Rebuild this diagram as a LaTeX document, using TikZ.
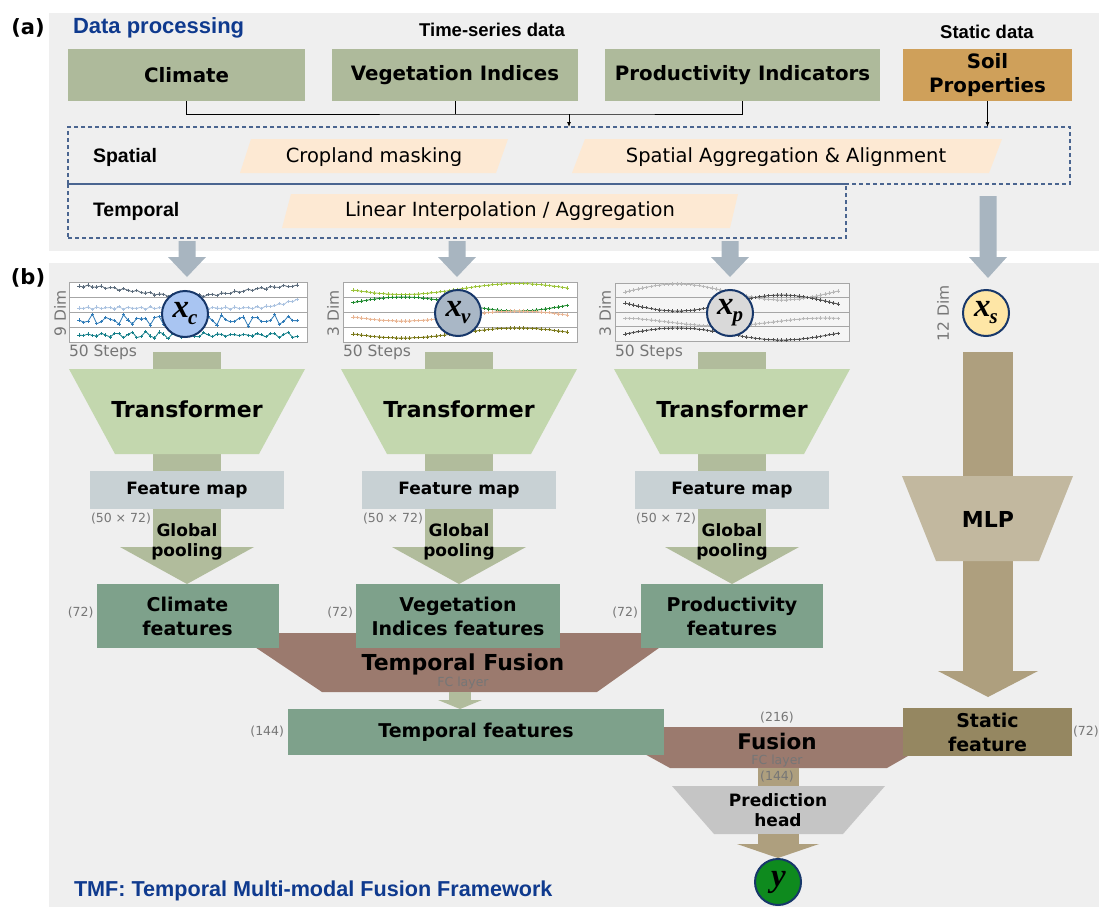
\documentclass[tikz,border=0pt]{standalone}
\usepackage{fontspec}
\setmainfont{DejaVu Sans}
\newfontfamily\arialf{Liberation Sans}
\newfontfamily\timesf{Liberation Serif}
\usetikzlibrary{arrows.meta,positioning,calc}

\newcommand\fsz[2]{\fontsize{#1}{#2}\selectfont}

\definecolor{panelbg}{HTML}{EFEFEF}
\definecolor{titleblue}{HTML}{0F3A8E}
\definecolor{inputgreen}{HTML}{AEBA9B}
\definecolor{soilorange}{HTML}{CFA05A}
\definecolor{peach}{HTML}{FDE9D3}
\definecolor{dashblue}{HTML}{4A6590}
\definecolor{arrowgray}{HTML}{A8B5C0}
\definecolor{trgreen}{HTML}{C3D7AE}
\definecolor{shaftgreen}{HTML}{B1BC9C}
\definecolor{fmapgray}{HTML}{C8D1D4}
\definecolor{featgreen}{HTML}{7EA18B}
\definecolor{fusebrown}{HTML}{9B7A6E}
\definecolor{tanfill}{HTML}{AE9F7E}
\definecolor{mlptan}{HTML}{C2B89F}
\definecolor{staticbrown}{HTML}{958761}
\definecolor{headgray}{HTML}{C5C5C5}
\definecolor{ringblue}{HTML}{17376A}
\definecolor{dimgray}{HTML}{767676}
\definecolor{xcblue}{HTML}{A9C5F2}
\definecolor{xvgray}{HTML}{A9B7C6}
\definecolor{xpgray}{HTML}{D9D9D9}
\definecolor{xsyellow}{HTML}{FEE6A6}
\definecolor{ygreen}{HTML}{0E8A1E}
% series colours of the input plots
\definecolor{ca}{HTML}{5C6C7C}
\definecolor{cb}{HTML}{AAC2E0}
\definecolor{cc}{HTML}{2F7BB8}
\definecolor{cd}{HTML}{16808A}
\definecolor{va}{HTML}{9CC43A}
\definecolor{vb}{HTML}{1F8A2F}
\definecolor{vc}{HTML}{E9B593}
\definecolor{vd}{HTML}{7A7818}
\definecolor{pa}{HTML}{B8B8B8}
\definecolor{pb}{HTML}{505050}

\tikzset{
  every node/.style={inner sep=0pt,outer sep=0pt},
  inbox/.style={fill=inputgreen,minimum height=52,font=\bfseries\fsz{19.8}{24},align=center},
  dashbox/.style={draw=dashblue,line width=1.1,dash pattern=on 4pt off 3pt},
  proc/.style={font=\fsz{19.5}{24}},
  rowlbl/.style={anchor=west,font=\arialf\bfseries\fsz{19.5}{22}},
  varcirc/.style={shape=circle,draw=ringblue,line width=2,minimum size=46},
  dimlbl/.style={text=dimgray,font=\fsz{12.5}{14}},
  steplbl/.style={text=dimgray,font=\fsz{15.5}{18}},
  plotframe/.style={draw=gray!70,line width=0.8},
  series/.style={line width=0.8,mark=+,mark size=1.6},
  bigbold/.style={font=\bfseries\fsz{22}{26},align=center},
  midbold/.style={font=\bfseries\fsz{17}{20},align=center},
  featbox/.style={fill=featgreen,minimum height=64,font=\bfseries\fsz{19}{24},align=center},
  fmap/.style={fill=fmapgray,minimum width=194,minimum height=38,font=\bfseries\fsz{17}{20}},
}
% bold italic variable with a lowered index
\newcommand\varsym[2]{{\timesf\bfseries\itshape\fsz{33}{33}#1\kern-1pt\raisebox{-7pt}{\fsz{21}{21}#2}}}

\begin{document}
\begin{tikzpicture}[x=1pt,y=-1pt,>=Latex]
\useasboundingbox (0,0) rectangle (1099,907);
% panels
\fill[panelbg] (49,13) rectangle (1099,251);
\fill[panelbg] (49,263) rectangle (1099,907);
\node[font=\bfseries\fsz{21}{24}] (tagA) at (28,28) {(a)};
\node[font=\bfseries\fsz{21}{24}] (tagB) at (28,278) {(b)};

% ---------- (a) data processing ----------
\node[anchor=west,text=titleblue,font=\arialf\bfseries\fsz{22}{25}] (dptitle) at (73,28) {Data processing};
\node[font=\arialf\bfseries\fsz{18.5}{21}] (tslbl) at (492,30) {Time-series data};
\node[font=\arialf\bfseries\fsz{18.5}{21}] (stlbl) at (987,32) {Static data};

\node[inbox,minimum width=237] (clim) at (186.5,75) {Climate};
\node[inbox,minimum width=246] (veg) at (455,75) {Vegetation Indices};
\node[inbox,minimum width=275] (prod) at (742.5,75) {Productivity Indicators};
\node[inbox,minimum width=169,fill=soilorange] (soil) at (987.5,75) {Soil\\Properties};

% dashed processing boxes
\node[dashbox,minimum width=1002,minimum height=57] (spat) at (569,155.5) {};
\node[dashbox,minimum width=778,minimum height=54] (temp) at (457,211) {};
\node[rowlbl] (spatlbl) at (93,157) {Spatial};
\node[rowlbl] (templbl) at (93,211) {Temporal};

\fill[peach] (251,139) -- (508,139) -- (496,173) -- (240,173) -- cycle;
\fill[peach] (585,139) -- (1002,139) -- (989,173) -- (572,173) -- cycle;
\fill[peach] (291,194) -- (738,194) -- (730,228) -- (282,228) -- cycle;
\node[proc] (crop) at (374,157) {Cropland masking};
\node[proc] (align) at (786,157) {Spatial Aggregation \& Alignment};
\node[proc] (interp) at (510,211) {Linear Interpolation / Aggregation};

% inputs into the processing block
\coordinate (bus) at (569,114);
\draw[line width=0.8] (clim.south) |- (bus) -| (prod.south);
\draw[line width=0.8] (veg.south) -- (veg.south |- bus);
\draw[line width=0.8,-{Latex[length=5pt,width=4pt]}] (bus) -- (bus |- spat.north);
\draw[line width=0.8,-{Latex[length=5pt,width=4pt]}] (soil.south) -- (soil.south |- spat.north);

% block arrows down to (b)
\foreach \cx in {187,457,730}
  \fill[arrowgray] (\cx-8.5,241) -- (\cx+8.5,241) -- (\cx+8.5,257) -- (\cx+19,257)
    -- (\cx,277) -- (\cx-19,257) -- (\cx-8.5,257) -- cycle;
\fill[arrowgray] (979.5,196) -- (996.5,196) -- (996.5,257) -- (1007,257)
  -- (988,278) -- (969,257) -- (979.5,257) -- cycle;

% ---------- (b) inputs ----------
% climate series
\fill[white] (69,282) rectangle (307,342);
\foreach \gy in {297,312,327} \draw[gray!70,line width=0.7] (69,\gy) -- (307,\gy);
\draw[plotframe] (69,282) rectangle (307,342);
\draw[series,ca] plot[domain=0:49,samples=50] ({79+4.45*\x},{291-5*cos(\x*7.35)+1.2*sin(\x*131)});
\draw[series,cb] plot[domain=0:49,samples=50] ({79+4.45*\x},{308+1.2*sin(\x*151)-0.07*max(0,\x-38)^2});
\draw[series,cc] plot[domain=0:49,samples=50] ({79+4.45*\x},{320+3.5*sin(\x*97)+2.5*sin(\x*211)});
\draw[series,cd] plot[domain=0:49,samples=50] ({79+4.45*\x},{335+2.2*sin(\x*113)+1.5*sin(\x*257)});
% vegetation series
\fill[white] (343,282) rectangle (577,342);
\foreach \gy in {297,312,327} \draw[gray!70,line width=0.7] (343,\gy) -- (577,\gy);
\draw[plotframe] (343,282) rectangle (577,342);
\draw[series,va] plot[domain=0:49,samples=50] ({353+4.37*\x},{289-5.5*sin((\x-24.5)*6.9)});
\draw[series,vb] plot[domain=0:49,samples=50] ({353+4.37*\x},{304+7*sin((\x-24.5)*6.9)});
\draw[series,vc] plot[domain=0:49,samples=50] ({353+4.37*\x},{321-5*(1+sin((\x-24.5)*6.9))});
\draw[series,vd] plot[domain=0:49,samples=50] ({353+4.37*\x},{333-5*sin((\x-24.5)*6.9)});
% productivity series
\fill[gray!8] (615,283) rectangle (849,341);
\foreach \gy in {297.5,312,326.5} \draw[gray!70,line width=0.7] (615,\gy) -- (849,\gy);
\draw[plotframe] (615,283) rectangle (849,341);
\draw[series,pa] plot[domain=0:49,samples=50] ({625+4.35*\x},{292-8*sin(\x*7.5)});
\draw[series,pb] plot[domain=0:49,samples=50] ({625+4.35*\x},{303+8*sin(\x*7.5)});
\draw[series,pa] plot[domain=0:49,samples=50] ({625+4.35*\x},{322+4*sin((\x-10)*7.5)});
\draw[series,pb] plot[domain=0:49,samples=50] ({625+4.35*\x},{334-6*sin(\x*7.5)});

\node[steplbl,rotate=90] (dimc) at (60,313) {9 Dim};
\node[steplbl,rotate=90] (dimv) at (333,313) {3 Dim};
\node[steplbl,rotate=90] (dimp) at (605,313) {3 Dim};
\node[steplbl,rotate=90] (dims) at (943,313) {12 Dim};
\node[steplbl,anchor=west] (stc) at (69,352) {50 Steps};
\node[steplbl,anchor=west] (stv) at (343,352) {50 Steps};
\node[steplbl,anchor=west] (stp) at (615,352) {50 Steps};

\node[varcirc,fill=xcblue] (xc) at (185,314) {\varsym{x}{c}};
\node[varcirc,fill=xvgray] (xv) at (458,313) {\varsym{x}{v}};
\node[varcirc,fill=xpgray] (xp) at (730,313) {\varsym{x}{p}};
\node[varcirc,fill=xsyellow] (xs) at (986,313) {\varsym{x}{s}};

% ---------- temporal encoders ----------
\foreach \cx in {187,459,732}{
  \fill[shaftgreen] (\cx-34,352) rectangle (\cx+34,547);
  \fill[shaftgreen] (\cx-67,547) -- (\cx+67,547) -- (\cx,584) -- cycle;
  \fill[trgreen] (\cx-118,369) -- (\cx+118,369) -- (\cx+72,454) -- (\cx-72,454) -- cycle;
  \node[bigbold] (tr\cx) at (\cx,409) {Transformer};
  \node[fmap] (fm\cx) at (\cx,490) {Feature map};
  \node[dimlbl,anchor=west] (fmd\cx) at (\cx-96,519) {(50 × 72)};
  \node[midbold] (gp\cx) at (\cx,542) {Global\\pooling};
}

% ---------- static encoder ----------
\fill[tanfill] (963,352) rectangle (1013,671);
\fill[tanfill] (938,671) -- (1038,671) -- (988,697) -- cycle;
\fill[mlptan] (902,476) -- (1073,476) -- (1039,561) -- (936,561) -- cycle;
\node[bigbold] (mlp) at (988,519) {MLP};

% ---------- temporal fusion ----------
\fill[fusebrown] (234,633) -- (680,633) -- (597,692) -- (322,692) -- cycle;
\node[bigbold] (tfuse) at (463,664) {Temporal Fusion};
\node[dimlbl] (tfc) at (463,683) {FC layer};

\node[featbox,minimum width=182] (cfeat) at (187.5,616) {Climate\\features};
\node[featbox,minimum width=204] (vfeat) at (458,616) {Vegetation\\Indices features};
\node[featbox,minimum width=182] (pfeat) at (732,616) {Productivity\\features};
\foreach \f in {cfeat,vfeat,pfeat}
  \node[dimlbl,left=3pt of \f,yshift=3pt] {(72)};

\fill[shaftgreen] (449,692) rectangle (471,700);
\fill[shaftgreen] (438,700) -- (482,700) -- (460,709) -- cycle;

% ---------- multimodal fusion ----------
\fill[fusebrown] (621,727) -- (934,727) -- (934,741) -- (887,768) -- (670,768) -- (621,741) -- cycle;
\node[featbox,minimum width=376,minimum height=46] (tfeat) at (476,732) {Temporal features};
\node[dimlbl,left=4pt of tfeat] (tdim) {(144)};
\node[featbox,fill=staticbrown,minimum width=169,minimum height=48] (sfeat) at (987.5,732) {Static\\feature};
\node[dimlbl,right=1pt of sfeat] (sdim) {(72)};

\node[dimlbl] (fin) at (777,718) {(216)};
\node[font=\bfseries\fsz{21.5}{25}] (fuse) at (777,741) {Fusion};
\node[dimlbl] (ffc) at (777,761) {FC layer};

% ---------- prediction head ----------
\fill[tanfill] (758,768) rectangle (799,786);
\node[dimlbl] (fout) at (777,777) {(144)};
\fill[headgray] (672,786) -- (885,786) -- (843,834) -- (714,834) -- cycle;
\node[midbold] (pred) at (778,810) {Prediction\\head};
\fill[tanfill] (758,834) rectangle (799,844);
\fill[tanfill] (737,844) -- (819,844) -- (778,858) -- cycle;
\node[varcirc,fill=ygreen] (yout) at (778,882) {\varsym{y}{}};

\node[anchor=west,text=titleblue,font=\arialf\bfseries\fsz{21.6}{25}] (tmf) at (74,891) {TMF: Temporal Multi-modal Fusion Framework};
\end{tikzpicture}
\end{document}
